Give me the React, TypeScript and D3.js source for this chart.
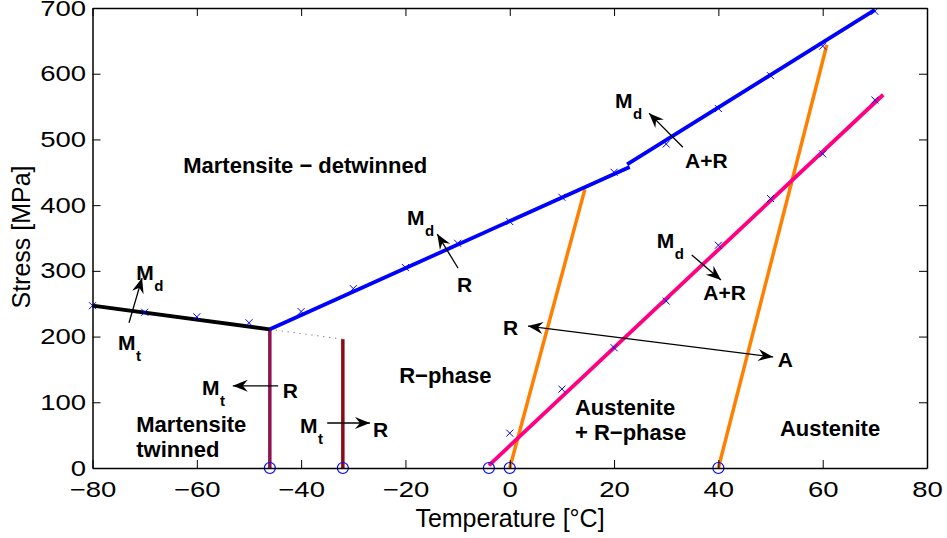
import React, { useEffect, useRef } from 'react';
import * as d3 from 'd3';

const svgWidth = 947;
const svgHeight = 538;
const FONT = '"Liberation Sans", Arial, Helvetica, sans-serif';

// axes
const xTicks = [-80, -60, -40, -20, 0, 20, 40, 60, 80];
const yTicks = [0, 100, 200, 300, 400, 500, 600, 700];

// transformation lines (temperature [C], stress [MPa])
const twinnedX = [-80, -46];
const twinnedY = [247, 211];
const mdLowX = [-46, 23];
const mdLowY = [211, 458];
const mdHighX = [22.5, 70];
const mdHighY = [462, 697];
const rsX = [-4, 71.6];
const rsY = [4, 568];
const asX = [0, 14.4];
const asY = [0, 424];
const afX = [40, 60.8];
const afY = [0, 644];
const mfX = [-46, -46];
const mfY = [0, 211];
const rfX = [-32, -32];
const rfY = [0, 196];
const dottedX = [-46, -32];
const dottedY = [211, 196];

// measured points
const mdMarkX = [-80, -70, -60, -50, -40, -30, -20, -10, 0, 10, 20, 30, 40, 50, 60, 70];
const mdMarkY = [247, 237, 230, 221, 238, 273, 305, 342, 375, 412, 450, 493, 547, 597, 642, 695];
const rsMarkX = [0, 10, 20, 30, 40, 50, 60, 70];
const rsMarkY = [53, 120, 183, 254, 339, 410, 478, 560];
const zeroX = [-46, -32, -4, 0, 40];

// region labels
const regionText = ['Martensite \u2212 detwinned', 'R\u2212phase', 'Martensite', 'twinned', 'Austenite', '+ R\u2212phase', 'Austenite'];
const regionX = [-62.6, -21.2, -71.6, -71.6, 12.5, 12.5, 51.8];
const regionY = [449, 129, 55, 17, 81, 43, 49];

// transformation arrows
const arrowX1 = [-73.0, -44.4, -35.0, -9.9, 33.2, 34.9, 3.5];
const arrowY1 = [221, 125, 68.5, 304, 488, 324, 216];
const arrowX2 = [-70.5, -53.1, -26.8, -13.9, 26.7, 40.5, 50.5];
const arrowY2 = [289, 125, 68.5, 356, 540, 286, 169];
const arrowBoth = [false, false, false, false, false, false, true];

// phase symbols: main letter + subscript
const symMain = ['M', 'M', 'M', 'R', 'M', 'R', 'M', 'R', 'M', 'A+R', 'M', 'A+R', 'R', 'A'];
const symSub = ['d', 't', 't', '', 't', '', 'd', '', 'd', '', 'd', '', '', ''];
const symX = [-71.6, -75.1, -59.0, -43.5, -40.2, -26.2, -19.7, -10.1, 20.2, 33.6, 28.2, 37.1, -1.3, 51.4];
const symY = [286, 180, 111, 107, 53, 47, 370, 268, 548, 457, 335, 256, 202, 154];

const App = () => {
  const ref = useRef<SVGSVGElement>(null);

  useEffect(() => {
    document.body.style.margin = '0';
    const svg = d3.select(ref.current);
    svg.selectAll('*').remove();

    const x = d3.scaleLinear().domain([-80, 80]).range([92.5, 927]);
    const y = d3.scaleLinear().domain([0, 700]).range([468, 8]);

    svg
      .append('defs')
      .append('marker')
      .attr('id', 'ah')
      .attr('viewBox', '-16 -7 17 14')
      .attr('refX', 0)
      .attr('refY', 0)
      .attr('markerWidth', 17)
      .attr('markerHeight', 14)
      .attr('markerUnits', 'userSpaceOnUse')
      .attr('orient', 'auto-start-reverse')
      .append('path')
      .attr('d', 'M0,0 L-15,-6 L-10,0 L-15,6 Z')
      .attr('fill', '#000');

    const line = d3
      .line<[number, number]>()
      .x(d => x(d[0]))
      .y(d => y(d[1]));
    const pts = (xs: number[], ys: number[]) => xs.map((v, i) => [v, ys[i]] as [number, number]);

    const drawLine = (xs: number[], ys: number[], color: string, w: number, dash?: string) => {
      svg
        .append('path')
        .attr('d', line(pts(xs, ys)))
        .attr('fill', 'none')
        .attr('stroke', color)
        .attr('stroke-width', w)
        .attr('stroke-dasharray', dash || null);
    };

    drawLine(dottedX, dottedY, '#555', 1, '1 5');
    drawLine(mfX, mfY, '#8c1450', 3.5);
    drawLine(rfX, rfY, '#8b0a14', 3.5);
    drawLine(asX, asY, '#ff8000', 3.5);
    drawLine(afX, afY, '#ff8000', 3.5);
    drawLine(rsX, rsY, '#ff0080', 3.8);
    drawLine(twinnedX, twinnedY, '#000', 3.8);
    drawLine(mdLowX, mdLowY, '#0000ff', 3.8);
    drawLine(mdHighX, mdHighY, '#0000ff', 3.8);

    // x markers
    const cross = (xs: number[], ys: number[]) => {
      svg
        .append('g')
        .selectAll('path')
        .data(pts(xs, ys))
        .enter()
        .append('path')
        .attr('d', d => {
          const cx = x(d[0]);
          const cy = y(d[1]);
          const s = 3.5;
          return `M${cx - s},${cy - s}L${cx + s},${cy + s}M${cx - s},${cy + s}L${cx + s},${cy - s}`;
        })
        .attr('stroke', '#0000ff')
        .attr('stroke-width', 1);
    };
    cross(mdMarkX, mdMarkY);
    cross(rsMarkX, rsMarkY);

    svg
      .append('g')
      .selectAll('circle')
      .data(zeroX)
      .enter()
      .append('circle')
      .attr('cx', d => x(d))
      .attr('cy', y(0))
      .attr('r', 5.5)
      .attr('fill', 'none')
      .attr('stroke', '#0000ff')
      .attr('stroke-width', 1.2);

    // arrows
    svg
      .append('g')
      .selectAll('line')
      .data(arrowX1.map((v, i) => i))
      .enter()
      .append('line')
      .attr('x1', i => x(arrowX1[i]))
      .attr('y1', i => y(arrowY1[i]))
      .attr('x2', i => x(arrowX2[i]))
      .attr('y2', i => y(arrowY2[i]))
      .attr('stroke', '#000')
      .attr('stroke-width', 1.3)
      .attr('marker-end', 'url(#ah)')
      .attr('marker-start', i => (arrowBoth[i] ? 'url(#ah)' : null));

    // axes
    const styleAxis = (g: any) => {
      g.attr('font-size', 22).attr('font-family', FONT);
      g.select('.domain').attr('stroke', '#000').attr('stroke-width', 1.5);
      g.selectAll('.tick line').attr('stroke', '#000').attr('stroke-width', 1);
      g.selectAll('.tick text').attr('fill', '#000').attr('transform', 'scale(1.25,1)');
    };

    svg
      .append('g')
      .attr('transform', `translate(0,${y(0)})`)
      .call(d3.axisBottom(x).tickValues(xTicks).tickSizeInner(-8).tickSizeOuter(0).tickPadding(13))
      .call(styleAxis);
    svg
      .append('g')
      .attr('transform', `translate(0,${y(700)})`)
      .call(d3.axisTop(x).tickValues(xTicks).tickSizeInner(-8).tickSizeOuter(0).tickFormat(() => ''))
      .call(styleAxis);
    svg
      .append('g')
      .attr('transform', `translate(${x(-80)},0)`)
      .call(d3.axisLeft(y).tickValues(yTicks).tickSizeInner(-8).tickSizeOuter(0).tickPadding(5.2))
      .call(styleAxis);
    svg
      .append('g')
      .attr('transform', `translate(${x(80)},0)`)
      .call(d3.axisRight(y).tickValues(yTicks).tickSizeInner(-8).tickSizeOuter(0).tickFormat(() => ''))
      .call(styleAxis);

    svg
      .append('text')
      .attr('x', 510)
      .attr('y', 527)
      .attr('text-anchor', 'middle')
      .attr('font-family', FONT)
      .attr('font-size', 25)
      .text('Temperature [\u00B0C]');
    svg
      .append('text')
      .attr('transform', 'translate(30,237) rotate(-90)')
      .attr('text-anchor', 'middle')
      .attr('font-family', FONT)
      .attr('font-size', 25)
      .text('Stress [MPa]');

    // region labels
    regionText.forEach((t, i) => {
      svg
        .append('text')
        .attr('x', x(regionX[i]))
        .attr('y', y(regionY[i]))
        .attr('font-family', FONT)
        .attr('font-weight', 'bold')
        .attr('font-size', 22)
        .text(t);
    });

    // phase symbols
    symMain.forEach((t, i) => {
      const tx = x(symX[i]);
      const ty = y(symY[i]);
      svg
        .append('text')
        .attr('x', tx)
        .attr('y', ty)
        .attr('font-family', FONT)
        .attr('font-weight', 'bold')
        .attr('font-size', 21)
        .text(t);
      if (symSub[i]) {
        svg
          .append('text')
          .attr('x', tx + 18)
          .attr('y', ty + 11)
          .attr('font-family', FONT)
          .attr('font-weight', 'bold')
          .attr('font-size', 15)
          .text(symSub[i]);
      }
    });
  }, []);

  return <svg ref={ref} width={svgWidth} height={svgHeight} style={{ display: 'block', background: '#fff' }} />;
};

export default App;
